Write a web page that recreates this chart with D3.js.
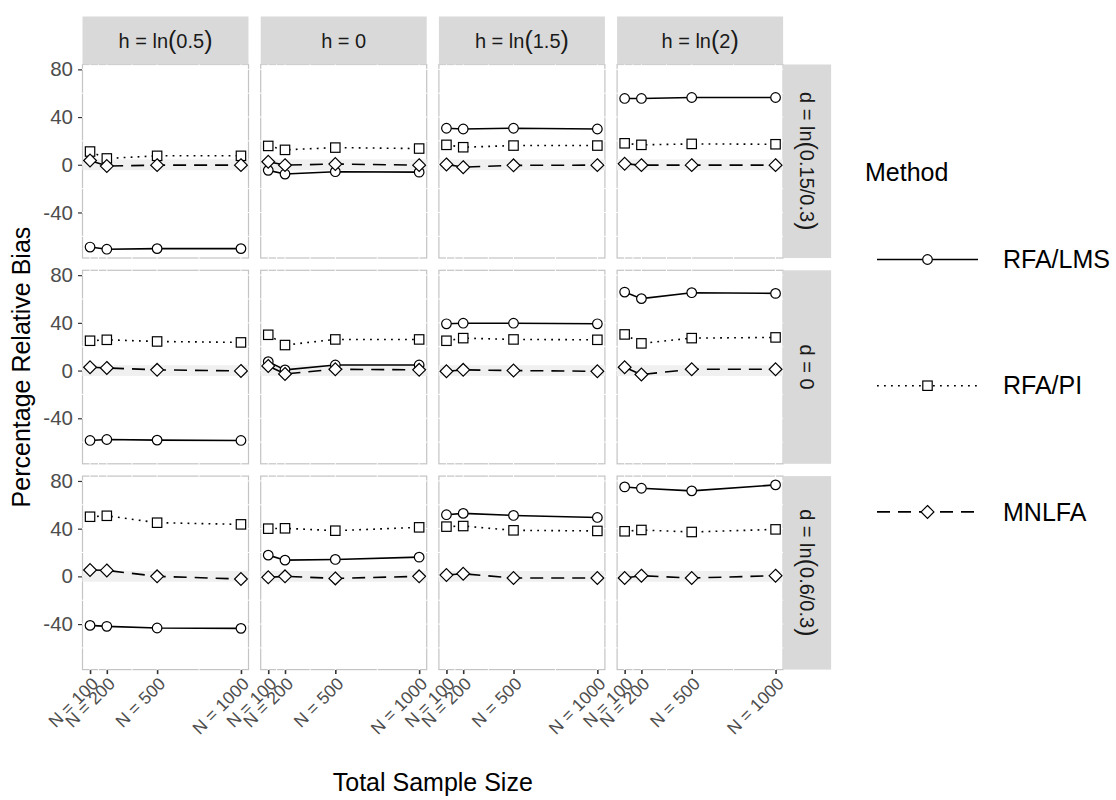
<!DOCTYPE html>
<html>
<head>
<meta charset="utf-8">
<script src="https://cdn.jsdelivr.net/npm/d3@7"></script>
<style>
  html, body { margin: 0; padding: 0; background: #fff; }
  svg { display: block; font-family: "Liberation Sans", Arial, sans-serif; }
</style>
</head>
<body>
<svg id="chart" width="1116" height="800"></svg>
<script>
// Percentage relative bias by sample size, faceted by h (columns) and d (rows).

const N = [100, 200, 500, 1000];
const N_MINOR = [150, 350, 750];
const COL_LABELS = ["h = ln(0.5)", "h = 0", "h = ln(1.5)", "h = ln(2)"];
const ROW_LABELS = ["d = ln(0.15/0.3)", "d = 0", "d = ln(0.6/0.3)"];
const METHODS = ["RFA/LMS", "RFA/PI", "MNLFA"];
const Y_TICKS = [-40, 0, 40, 80];
const Y_MINOR = [-60, -20, 20, 60];
const BAND = [-4.5, 4.5];

// values[row][col] -> one value per N
const LMS = [
  [[-69, -70.8, -70.3, -70.3], [-4.7, -7.8, -5.8, -6.2], [30.6, 30, 30.6, 30], [55.6, 55.6, 56.4, 56.4]],
  [[-58.6, -57.8, -58.3, -58.6], [7.5, 0.6, 4.7, 4.7], [39.2, 39.7, 39.7, 39.2], [65.8, 60.3, 65.3, 64.7]],
  [[-41.1, -41.9, -43.3, -43.6], [17.8, 13.6, 14.2, 16.1], [51.7, 52.8, 51.1, 49.4], [75, 73.9, 71.7, 76.7]],
];
const PI = [
  [[11.1, 5.3, 7.5, 7.5], [15.8, 12.5, 14.4, 13.6], [16.7, 14.7, 16.1, 16.1], [18, 16.7, 17.5, 17.2]],
  [[25, 25.8, 24.4, 23.6], [30, 21.4, 26.1, 26.1], [25, 27.2, 26.1, 25.8], [30.3, 22.8, 27.2, 27.8]],
  [[50, 50.8, 45, 43.6], [40, 40.3, 38.3, 41.1], [41.7, 42.2, 38.6, 38.1], [37.8, 38.9, 37.2, 39.4]],
];
const MNLFA = [
  [[3.6, -1.1, -0.3, -0.3], [2.5, -0.3, 0.6, -0.3], [0.3, -2, -0.5, -0.3], [0.8, -0.3, -0.3, -0.3]],
  [[2.8, 2.2, 0.6, -0.3], [3.9, -2.8, 1.1, 0.6], [-0.6, 0.6, 0, -0.6], [2.8, -3.3, 1.1, 1.1]],
  [[5.3, 5, 0, -2.2], [-0.8, 0, -1.7, 0], [1.1, 2.2, -1.4, -1.4], [-1.4, 0.6, -1.4, 0.6]],
];
const SERIES = [LMS, PI, MNLFA];

const STYLE = {
  "RFA/LMS": { dash: null, shape: "circle" },
  "RFA/PI": { dash: "1.8,5.2", shape: "square" },
  "MNLFA": { dash: "13,8", shape: "diamond" },
};

const svg = d3.select("#chart");
const panel = { left: 82.5, top: 64.5, w: 166, h: 193.5, gapX: 12.2, gapY: 12.3 };
const STRIP = 48;
const TEXT = "#1A1A1A", AXIS = "#4D4D4D";
const FONT = "Liberation Sans, Arial, sans-serif";

// shared scales (ggplot-like 5% expansion)
const xExt = d3.extent(N), xPad = (xExt[1] - xExt[0]) * 0.05;
const x = d3.scaleLinear().domain([xExt[0] - xPad, xExt[1] + xPad]).range([0, panel.w]);
const allY = SERIES.flat(3);
const yExt = d3.extent(allY), yPad = (yExt[1] - yExt[0]) * 0.05;
const y = d3.scaleLinear().domain([yExt[0] - yPad, yExt[1] + yPad]).range([panel.h, 0]);

function marker(g, shape, cx, cy, s) {
  if (shape === "circle") {
    g.append("circle").attr("cx", cx).attr("cy", cy).attr("r", 4.8 * s);
  } else if (shape === "square") {
    const h = 4.7 * s;
    g.append("rect").attr("x", cx - h).attr("y", cy - h).attr("width", 2 * h).attr("height", 2 * h);
  } else {
    const r = 6.4 * s;
    g.append("path").attr("d", `M${cx},${cy - r}L${cx + r},${cy}L${cx},${cy + r}L${cx - r},${cy}Z`);
  }
}

// strip label with tall parentheses, like plotmath
function stripText(t, label) {
  const m = label.match(/^(.*)\((.*)\)$/);
  if (!m) { t.text(label); return; }
  t.append("tspan").text(m[1]);
  t.append("tspan").style("font-size", "25px").attr("dy", "1").text("(");
  t.append("tspan").attr("dy", "-1").text(m[2]);
  t.append("tspan").style("font-size", "25px").attr("dy", "1").text(")");
}

const line = d3.line().x((d) => x(d[0])).y((d) => y(d[1]));

ROW_LABELS.forEach((rowLab, r) => {
  COL_LABELS.forEach((colLab, c) => {
    const px = panel.left + c * (panel.w + panel.gapX);
    const py = panel.top + r * (panel.h + panel.gapY);
    const g = svg.append("g").attr("transform", `translate(${px},${py})`);

    g.append("rect").attr("width", panel.w).attr("height", panel.h)
      .attr("fill", "#fff").attr("stroke", "#C4C4C4").attr("stroke-width", 1.2);
    // white grid lines break the border like in the original
    N.concat(N_MINOR).forEach((v) => g.append("line")
      .attr("x1", x(v)).attr("x2", x(v)).attr("y1", -1).attr("y2", panel.h + 1)
      .attr("stroke", "#fff").attr("stroke-width", 1));
    Y_TICKS.concat(Y_MINOR).forEach((v) => g.append("line")
      .attr("y1", y(v)).attr("y2", y(v)).attr("x1", -1).attr("x2", panel.w + 1)
      .attr("stroke", "#fff").attr("stroke-width", 1));
    g.append("rect").attr("x", 0).attr("width", panel.w)
      .attr("y", y(BAND[1])).attr("height", y(BAND[0]) - y(BAND[1]))
      .attr("fill", "#F0F0F0");

    METHODS.forEach((m, k) => {
      const pts = N.map((n, i) => [n, SERIES[k][r][c][i]]);
      g.append("path").attr("d", line(pts)).attr("fill", "none")
        .attr("stroke", "#000").attr("stroke-width", 1.6)
        .attr("stroke-dasharray", STYLE[m].dash);
      const mg = g.append("g").attr("fill", "#fff").attr("stroke", "#000").attr("stroke-width", 1.2);
      pts.forEach((p) => marker(mg, STYLE[m].shape, x(p[0]), y(p[1]), 1));
    });

    // y axis on first column
    if (c === 0) {
      const ya = g.append("g").attr("transform", "translate(-0.5,0)")
        .call(d3.axisLeft(y).tickValues(Y_TICKS).tickSize(4).tickPadding(5)
          .tickFormat((d) => `${d}`));
      ya.select(".domain").remove();
      ya.selectAll("line").attr("stroke", "#333").attr("stroke-width", 1.2);
      ya.selectAll("text").attr("fill", AXIS).style("font-size", "20.5px")
        .style("font-family", FONT);
    }
    // x axis on bottom row
    if (r === ROW_LABELS.length - 1) {
      const xa = g.append("g").attr("transform", `translate(0,${panel.h + 0.5})`)
        .call(d3.axisBottom(x).tickValues(N).tickSize(4).tickFormat((d) => `N = ${d}`));
      xa.select(".domain").remove();
      xa.selectAll("line").attr("stroke", "#333").attr("stroke-width", 1.6);
      xa.selectAll("text").attr("fill", AXIS).style("font-size", "17.5px")
        .style("font-family", FONT)
        .attr("text-anchor", "end").attr("y", 0).attr("dy", "0.71em")
        .attr("transform", "translate(0,6) rotate(-45)");
    }
    // top strips
    if (r === 0) {
      const s = svg.append("g").attr("transform", `translate(${px},${py - STRIP})`);
      s.append("rect").attr("width", panel.w).attr("height", STRIP).attr("fill", "#D9D9D9");
      stripText(s.append("text").attr("x", panel.w / 2).attr("y", STRIP / 2)
        .attr("dy", "0.35em").attr("text-anchor", "middle").attr("fill", TEXT)
        .style("font-size", "20px"), colLab);
    }
    // right strips
    if (c === COL_LABELS.length - 1) {
      const s = svg.append("g").attr("transform", `translate(${px + panel.w},${py})`);
      s.append("rect").attr("width", STRIP).attr("height", panel.h).attr("fill", "#D9D9D9");
      stripText(s.append("text")
        .attr("transform", `translate(${STRIP / 2},${panel.h / 2}) rotate(90)`)
        .attr("dy", "0.35em").attr("text-anchor", "middle").attr("fill", TEXT)
        .style("font-size", "20px"), rowLab);
    }
  });
});

// axis titles
const gridW = COL_LABELS.length * panel.w + (COL_LABELS.length - 1) * panel.gapX;
const gridH = ROW_LABELS.length * panel.h + (ROW_LABELS.length - 1) * panel.gapY;
svg.append("text").attr("x", panel.left + gridW / 2).attr("y", 791)
  .attr("text-anchor", "middle").attr("fill", "#000").style("font-size", "25px")
  .text("Total Sample Size");
svg.append("text")
  .attr("transform", `translate(30,${panel.top + gridH / 2}) rotate(-90)`)
  .attr("text-anchor", "middle").attr("fill", "#000").style("font-size", "25px")
  .text("Percentage Relative Bias");

// legend
const leg = svg.append("g");
leg.append("text").attr("x", 865).attr("y", 181).attr("fill", "#000")
  .style("font-size", "25px").text("Method");
METHODS.forEach((m, i) => {
  const ly = 259.5 + i * 126.2;
  leg.append("line").attr("x1", 877).attr("x2", 978).attr("y1", ly).attr("y2", ly)
    .attr("stroke", "#000").attr("stroke-width", 1.6).attr("stroke-dasharray", STYLE[m].dash);
  const mg = leg.append("g").attr("fill", "#fff").attr("stroke", "#000").attr("stroke-width", 1.2);
  marker(mg, STYLE[m].shape, 927.5, ly, 1);
  leg.append("text").attr("x", 1003).attr("y", ly).attr("dy", "0.35em").attr("fill", "#000")
    .style("font-size", "25px").text(m);
});
</script>
</body>
</html>
